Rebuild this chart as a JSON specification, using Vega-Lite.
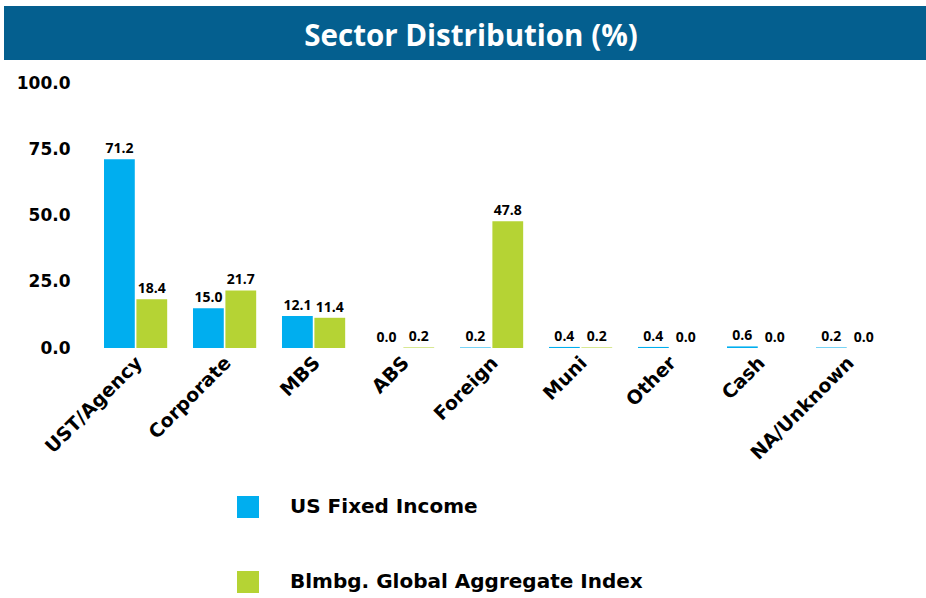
{
  "$schema": "https://vega.github.io/schema/vega-lite/v6.json",
  "padding": {"left": 4, "top": 6, "right": 0, "bottom": 0},
  "background": "white",
  "bounds": "flush",
  "spacing": 23,
  "config": {"view": {"stroke": null}},
  "vconcat": [
    {
      "width": 922,
      "height": 54,
      "view": {"fill": "#045F8F", "stroke": null},
      "data": {"values": [{"title": "Sector Distribution (%)"}]},
      "mark": {"type": "text", "font": "Open Sans", "fontWeight": "bold", "fontSize": 29.5, "color": "white", "dx": 6, "dy": 4, "baseline": "middle", "align": "center"},
      "encoding": {"text": {"field": "title"}}
    },
    {
      "width": 922,
      "height": 265,
      "data": {
        "values": [
          {"sector": "UST/Agency", "series": "US Fixed Income", "value": 71.2},
          {"sector": "UST/Agency", "series": "Blmbg. Global Aggregate Index", "value": 18.4},
          {"sector": "Corporate", "series": "US Fixed Income", "value": 15.0},
          {"sector": "Corporate", "series": "Blmbg. Global Aggregate Index", "value": 21.7},
          {"sector": "MBS", "series": "US Fixed Income", "value": 12.1},
          {"sector": "MBS", "series": "Blmbg. Global Aggregate Index", "value": 11.4},
          {"sector": "ABS", "series": "US Fixed Income", "value": 0.0},
          {"sector": "ABS", "series": "Blmbg. Global Aggregate Index", "value": 0.2},
          {"sector": "Foreign", "series": "US Fixed Income", "value": 0.2},
          {"sector": "Foreign", "series": "Blmbg. Global Aggregate Index", "value": 47.8},
          {"sector": "Muni", "series": "US Fixed Income", "value": 0.4},
          {"sector": "Muni", "series": "Blmbg. Global Aggregate Index", "value": 0.2},
          {"sector": "Other", "series": "US Fixed Income", "value": 0.4},
          {"sector": "Other", "series": "Blmbg. Global Aggregate Index", "value": 0.0},
          {"sector": "Cash", "series": "US Fixed Income", "value": 0.6},
          {"sector": "Cash", "series": "Blmbg. Global Aggregate Index", "value": 0.0},
          {"sector": "NA/Unknown", "series": "US Fixed Income", "value": 0.2},
          {"sector": "NA/Unknown", "series": "Blmbg. Global Aggregate Index", "value": 0.0}
        ]
      },
      "encoding": {
        "x": {
          "field": "sector", "type": "nominal", "sort": null,
          "scale": {"paddingInner": 0.29, "paddingOuter": 0.825, "align": 0.681},
          "axis": {"title": null, "domain": false, "ticks": false, "labelAngle": -45, "labelFont": "DejaVu Sans", "labelFontWeight": "bold", "labelFontSize": 19, "labelColor": "black", "labelPadding": 5, "labelOffset": -3}
        },
        "xOffset": {
          "field": "series", "type": "nominal", "sort": ["US Fixed Income", "Blmbg. Global Aggregate Index"],
          "scale": {"paddingInner": 0.05}
        },
        "y": {
          "field": "value", "type": "quantitative",
          "scale": {"domain": [0, 100]},
          "axis": {"title": null, "domain": false, "ticks": false, "grid": false, "values": [0, 25, 50, 75, 100], "format": ".1f", "labelFont": "DejaVu Sans", "labelFontWeight": "bold", "labelFontSize": 17, "labelColor": "black", "offset": -70, "labelPadding": 4}
        }
      },
      "layer": [
        {
          "mark": {"type": "bar"},
          "encoding": {
            "color": {
              "field": "series", "type": "nominal",
              "scale": {"domain": ["US Fixed Income", "Blmbg. Global Aggregate Index"], "range": ["#00AEEF", "#B5D334"]},
              "legend": {
                "title": null, "orient": "none", "legendX": 233, "legendY": 490, "padding": 0,
                "symbolType": "square", "symbolSize": 484, "symbolStrokeWidth": 0,
                "labelFont": "DejaVu Sans", "labelFontWeight": "bold", "labelFontSize": 20, "labelColor": "black",
                "labelOffset": 31, "rowPadding": 53, "direction": "vertical", "labelLimit": 600
              }
            }
          }
        },
        {
          "mark": {"type": "text", "font": "Open Sans", "fontWeight": "bold", "fontSize": 14, "color": "black", "baseline": "alphabetic", "dy": -6},
          "encoding": {"text": {"field": "value", "type": "quantitative", "format": ".1f"}}
        }
      ]
    }
  ]
}
